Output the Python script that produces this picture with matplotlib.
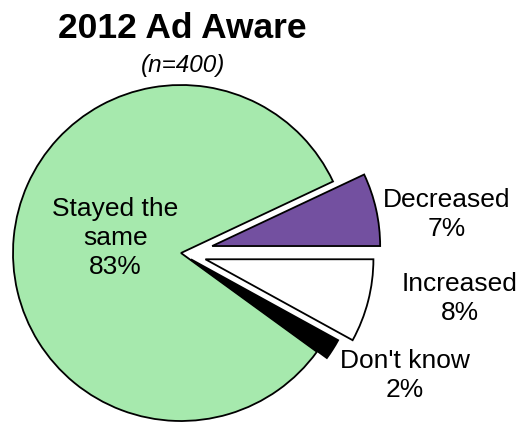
import matplotlib.pyplot as plt

plt.rcParams['font.family'] = ['Liberation Sans', 'DejaVu Sans']

# answers, counterclockwise from 3 o'clock
labels = ['Decreased', 'Stayed the\nsame', "Don't know", 'Increased']
shares = [7, 83, 2, 8]
colors = ['#7350a0', '#a6e9ad', '#000000', '#ffffff']
explode = [0.19, 0.0, 0.07, 0.15]

# where each label block sits (pie radius = 1)
label_xy = [(1.58, 0.23), (-0.39, 0.09), (1.33, -0.73), (1.66, -0.27)]

fig = plt.figure(figsize=(5.2, 4.25), dpi=100)
ax = fig.add_axes([0, 0, 1, 1])

wedges, _ = ax.pie(shares, colors=colors, explode=explode, startangle=0,
                   counterclock=True, radius=1.0,
                   wedgeprops=dict(edgecolor='black', linewidth=1.3))

for lab, val, (x, y) in zip(labels, shares, label_xy):
    ax.text(x, y, '%s\n%d%%' % (lab, val), ha='center', va='center',
            fontsize=19, linespacing=1.25)

ax.text(0.01, 1.335, '2012 Ad Aware', ha='center', va='center',
        fontsize=25.5, fontweight='bold')
ax.text(0.01, 1.115, '(n=400)', ha='center', va='center',
        fontsize=17.5, style='italic')

ax.set_xlim(-181 / 168, (520 - 181) / 168)
ax.set_ylim(-(425 - 253) / 168, 253 / 168)
ax.set_aspect('equal')
ax.axis('off')

fig.savefig('out.png', dpi=100)
